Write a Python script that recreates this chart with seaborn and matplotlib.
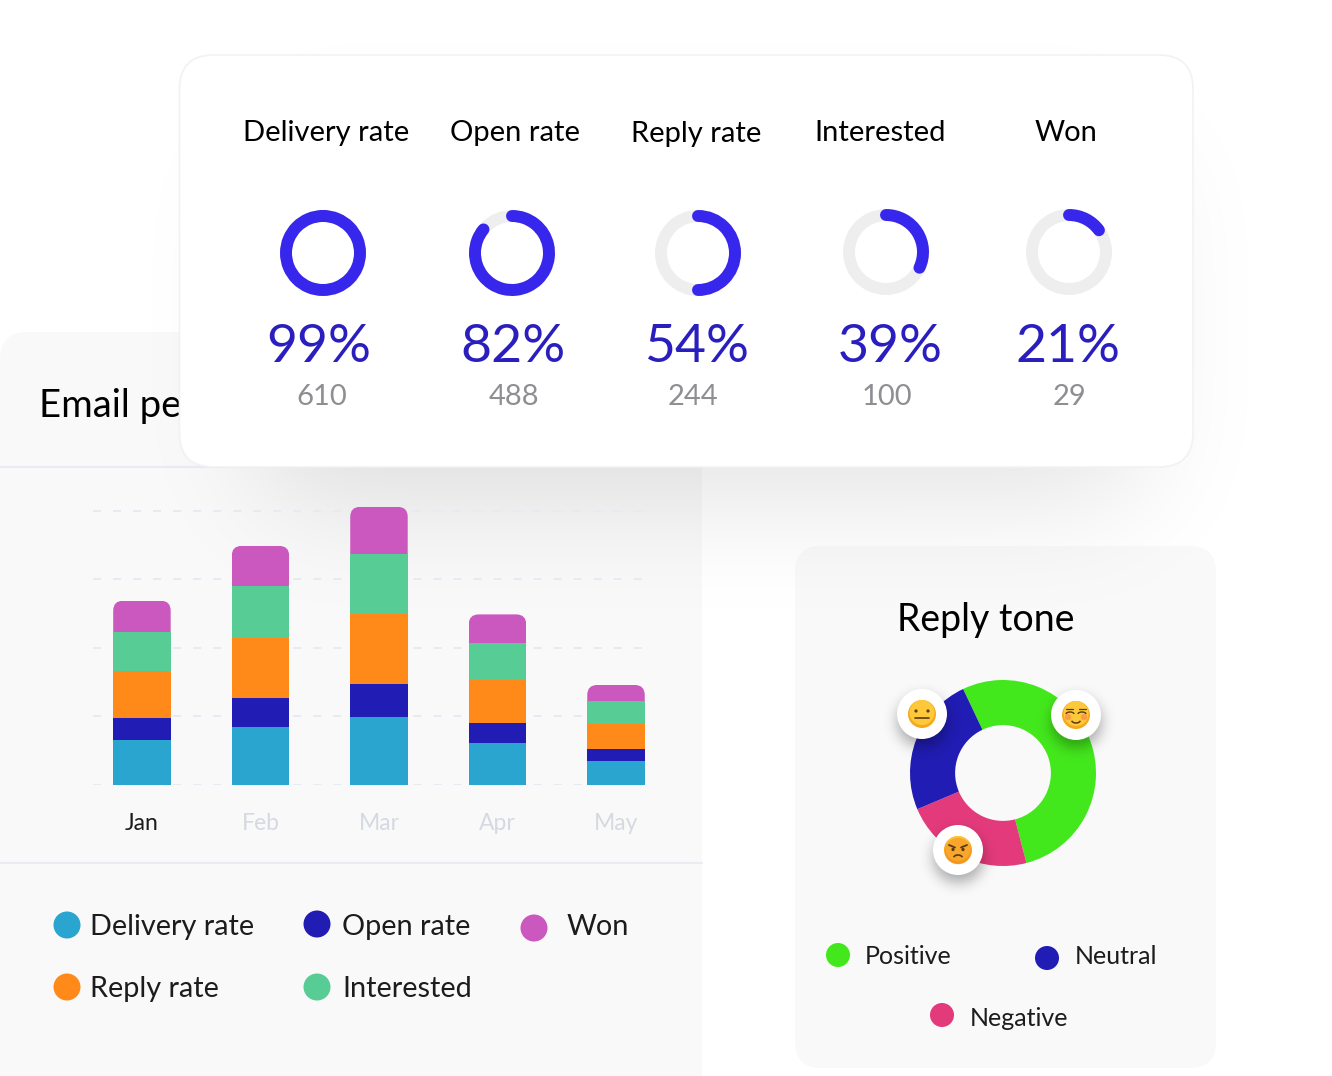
import numpy as np
import pandas as pd
import matplotlib
matplotlib.use('AGG')
import matplotlib.pyplot as plt
import seaborn as sns
from matplotlib.patches import Arc, Circle, FancyBboxPatch
from matplotlib.transforms import IdentityTransform

W, H = 1332, 1076

# bar chart data
months = ['Jan', 'Feb', 'Mar', 'Apr', 'May']
delivery = [66, 85, 99, 61, 35]
opened = [32, 42, 48, 29, 18]
replied = [69, 88, 102, 63, 36]
interested = [57, 76, 88, 54, 34]
won = [45, 58, 69, 42, 23]
grid_levels = [0, 100, 200, 300, 400]

# top card
rate_names = ['Delivery rate', 'Open rate', 'Reply rate', 'Interested', 'Won']
rate_pct = ['99%', '82%', '54%', '39%', '21%']
rate_counts = ['610', '488', '244', '100', '29']
ring_sweep = [1.0, 0.86, 0.50, 0.32, 0.15]

# donut
tone_names = ['Positive', 'Negative', 'Neutral']
tone_values = [53.0, 22.7, 24.3]

BLUE = '#211cb3'
COLORS = ['#2aa5cf', BLUE, '#ff8a1a', '#57cc95', '#cb58bf']
TONE_COLORS = ['#43e81c', '#e33a7b', BLUE]
CARD = '#f9f9f9'
LINE = '#e9ecf1'

sns.set_theme(style='white')
plt.rcParams['font.family'] = ['Lato', 'DejaVu Sans']


def px_axes(fig, x0, y0, x1, y1, zorder):
    ax = fig.add_axes([x0 / W, 1 - y1 / H, (x1 - x0) / W, (y1 - y0) / H], zorder=zorder)
    ax.patch.set_alpha(0)
    return ax


def rounded_mask(x0, y0, x1, y1, r):
    yy, xx = np.mgrid[0:H, 0:W]
    dx = np.maximum(np.maximum(x0 + r - xx, xx - (x1 - r)), 0)
    dy = np.maximum(np.maximum(y0 + r - yy, yy - (y1 - r)), 0)
    return (dx ** 2 + dy ** 2 <= r ** 2).astype(float)


def blur(mask, sigma):
    fy = np.fft.fftfreq(2 * H)[:, None]
    fx = np.fft.fftfreq(2 * W)[None, :]
    kernel = np.exp(-2 * np.pi ** 2 * sigma ** 2 * (fx ** 2 + fy ** 2))
    out = np.fft.ifft2(np.fft.fft2(mask, s=(2 * H, 2 * W)) * kernel).real
    return out[:H, :W]


def shadow(ax, mask, sigma, strength, zorder):
    img = np.zeros((H, W, 4))
    img[..., 3] = np.clip(blur(mask, sigma) * strength, 0, 1)
    ax.imshow(img, extent=(0, W, H, 0), aspect='auto', zorder=zorder, interpolation='bilinear')
    ax.set_xlim(0, W)
    ax.set_ylim(H, 0)


def card(ax, x0, y0, x1, y1, r, color, edge, zorder):
    ax.add_patch(FancyBboxPatch((x0 + r, y0 + r), x1 - x0 - 2 * r, y1 - y0 - 2 * r,
                                boxstyle='round,pad=%d,rounding_size=%d' % (r, r),
                                fc=color, ec=edge, lw=1.2, zorder=zorder))


fig = plt.figure(figsize=(W / 100, H / 100), dpi=100, facecolor='white')

# background layer, all in pixel coordinates
bg = px_axes(fig, 0, 0, W, H, 0)
bg.set_xlim(0, W)
bg.set_ylim(H, 0)
bg.axis('off')

card(bg, 0, 332, 702, 1100, 28, CARD, 'none', 1)
card(bg, 795, 546, 1216, 1068, 26, CARD, 'none', 1)
bg.plot([0, 702], [467, 467], color=LINE, lw=1.5, zorder=1.2)
bg.plot([0, 702], [863, 863], color=LINE, lw=1.5, zorder=1.2)
bg.text(39, 406, 'Email performance', fontsize=27.5, color='black', va='center', zorder=1.3)

shadow(bg, rounded_mask(260, 150, 1140, 500, 35), 60, 0.11, 2)

card(bg, 179.5, 55, 1193, 467, 34, 'white', '#f1f1f7', 3)

title_x = [326, 515, 696, 880, 1066]
title_y = [133, 133, 134, 133, 133]
ring_x = [323, 512, 698, 886, 1069]
ring_y = [253, 253, 253, 252, 252]
pct_x = [319, 513, 697, 890, 1068]
count_x = [322, 514, 693, 887, 1069]
for i, name in enumerate(rate_names):
    bg.text(title_x[i], title_y[i], name, fontsize=21, color='black', ha='center', va='center', zorder=4)
    track = Circle((ring_x[i], ring_y[i]), 37, fc='none', ec='#eeeeee', lw=8.6, zorder=4)
    bg.add_patch(track)
    arc = Arc((ring_x[i], ring_y[i]), 74, 74, theta1=-90, theta2=-90 + 360 * ring_sweep[i],
              ec='#3726ec', lw=8.6, capstyle='round', zorder=5)
    bg.add_patch(arc)
    bg.text(pct_x[i], 348, rate_pct[i], fontsize=38.5, color='#2a1fbe', ha='center', va='center', zorder=4)
    bg.text(count_x[i], 397, rate_counts[i], fontsize=21, color='#8e8e93', ha='center', va='center', zorder=4)

# legend of the bar chart
legend_left = [('Delivery rate', 67, 925, 90), ('Open rate', 317, 924, 342), ('Won', 534, 928, 567),
               ('Reply rate', 67, 987, 90), ('Interested', 317, 987, 342)]
legend_colors = [COLORS[0], COLORS[1], COLORS[4], COLORS[2], COLORS[3]]
for (label, cx, cy, tx), col in zip(legend_left, legend_colors):
    bg.add_patch(Circle((cx, cy), 13.5, fc=col, ec='none', zorder=1.5))
    bg.text(tx, 927 if cy < 950 else 989, label, fontsize=20.8, color='#1c1c1c', va='center', zorder=1.5)

# legend of the donut
legend_right = [('Positive', 838, 955, 865, 957), ('Neutral', 1047, 958, 1075, 957), ('Negative', 942, 1015, 970, 1018)]
legend_right_colors = [TONE_COLORS[0], TONE_COLORS[2], TONE_COLORS[1]]
for (label, cx, cy, tx, ty), col in zip(legend_right, legend_right_colors):
    bg.add_patch(Circle((cx, cy), 12, fc=col, ec='none', zorder=4))
    bg.text(tx, ty, label, fontsize=18, color='#1c1c1c', va='center', zorder=4)
bg.text(986, 620, 'Reply tone', fontsize=27, color='black', ha='center', va='center', zorder=4)

# stacked bars
bars = px_axes(fig, 93, 500, 648, 785, 1)
series = [delivery, opened, replied, interested, won]
bottom = np.zeros(len(months))
for values, col in zip(series, COLORS):
    df = pd.DataFrame({'month': months, 'value': values})
    sns.barplot(data=df, x='month', y='value', bottom=bottom, color=col, saturation=1,
                width=0.485, ax=bars, zorder=3, linewidth=0)
    bottom = bottom + np.array(values)

bars.set_xlim(-0.413, 4.27)
bars.set_ylim(0, 416)
bars.set_yticks(grid_levels)
bars.set_yticklabels([])
bars.set_xlabel('')
bars.set_ylabel('')
bars.tick_params(axis='both', length=0)
bars.tick_params(axis='x', pad=20, labelsize=16.5)
for lbl, col in zip(bars.get_xticklabels(), ['#1c1c1c'] + ['#d5d9e1'] * 4):
    lbl.set_color(col)
bars.grid(axis='y', color='#e6eaf3', lw=1.4, dashes=(4.1, 6.2), zorder=0)
bars.set_axisbelow(True)
sns.despine(ax=bars, left=True, bottom=True)

# rounded tops for the last segment
fig.canvas.draw()
for bar in bars.containers[-1]:
    box = bar.get_window_extent()
    clip = FancyBboxPatch((box.x0 + 10, box.y0 - 20), box.width - 20, box.height + 10,
                          boxstyle='round,pad=10,rounding_size=10', transform=IdentityTransform())
    bar.set_clip_path(clip)

# donut
donut = px_axes(fig, 910, 680, 1096, 866, 1)
donut.pie(tone_values, colors=TONE_COLORS, startangle=115.4, counterclock=False,
          radius=1, wedgeprops={'width': 0.485, 'linewidth': 0})
donut.set_xlim(-1, 1)
donut.set_ylim(-1, 1)

# emoji badges on top
fg = px_axes(fig, 0, 0, W, H, 3)
fg.axis('off')
badges = [(922, 714), (1076, 715), (958, 850)]
mask = sum(rounded_mask(x - 25, y - 25 + 7, x + 25, y + 25 + 7, 25) for x, y in badges)
shadow(fg, mask, 7, 0.33, 1)
for x, y in badges:
    fg.add_patch(Circle((x, y), 25, fc='white', ec='none', zorder=2))
    fg.add_patch(Circle((x, y), 14, fc='#f6a81c', ec='none', zorder=3))
    fg.add_patch(Circle((x, y - 1.5), 12.5, fc='#fdc93a', ec='none', zorder=3.1))

ink = '#5a3a10'
# neutral
x, y = badges[0]
fg.add_patch(Circle((x - 6, y - 3), 1.6, fc=ink, ec='none', zorder=4))
fg.add_patch(Circle((x + 6, y - 3), 1.6, fc=ink, ec='none', zorder=4))
fg.plot([x - 7, x + 7], [y + 3.5, y + 3.5], color=ink, lw=1.2, zorder=4)
# positive, closed eyes and a small smile
x, y = badges[1]
fg.add_patch(Circle((x - 8, y + 2), 3.2, fc='#f98a4a', ec='none', alpha=0.7, zorder=3.5))
fg.add_patch(Circle((x + 8, y + 2), 3.2, fc='#f98a4a', ec='none', alpha=0.7, zorder=3.5))
fg.add_patch(Arc((x - 6, y - 1), 8, 4, theta1=180, theta2=360, ec=ink, lw=1, zorder=4))
fg.add_patch(Arc((x + 6, y - 1), 8, 4, theta1=180, theta2=360, ec=ink, lw=1, zorder=4))
fg.plot([x - 10, x - 3], [y - 6, y - 6], color=ink, lw=0.9, zorder=4)
fg.plot([x + 3, x + 10], [y - 6, y - 6], color=ink, lw=0.9, zorder=4)
fg.add_patch(Arc((x, y + 5), 9, 6, theta1=10, theta2=170, ec=ink, lw=1.1, zorder=4))
# negative
x, y = badges[2]
fg.add_patch(Circle((x, y + 1), 13.3, fc='#f58a22', ec='none', zorder=3.2, alpha=0.55))
fg.add_patch(Circle((x - 5, y - 0.5), 1.6, fc=ink, ec='none', zorder=4))
fg.add_patch(Circle((x + 5, y - 0.5), 1.6, fc=ink, ec='none', zorder=4))
fg.plot([x - 9, x - 3], [y - 5, y - 2.5], color=ink, lw=1.3, zorder=4)
fg.plot([x + 9, x + 3], [y - 5, y - 2.5], color=ink, lw=1.3, zorder=4)
fg.add_patch(Arc((x, y + 8), 9, 6, theta1=190, theta2=350, ec=ink, lw=1.2, zorder=4))

fig.savefig('out.png', dpi=100)
